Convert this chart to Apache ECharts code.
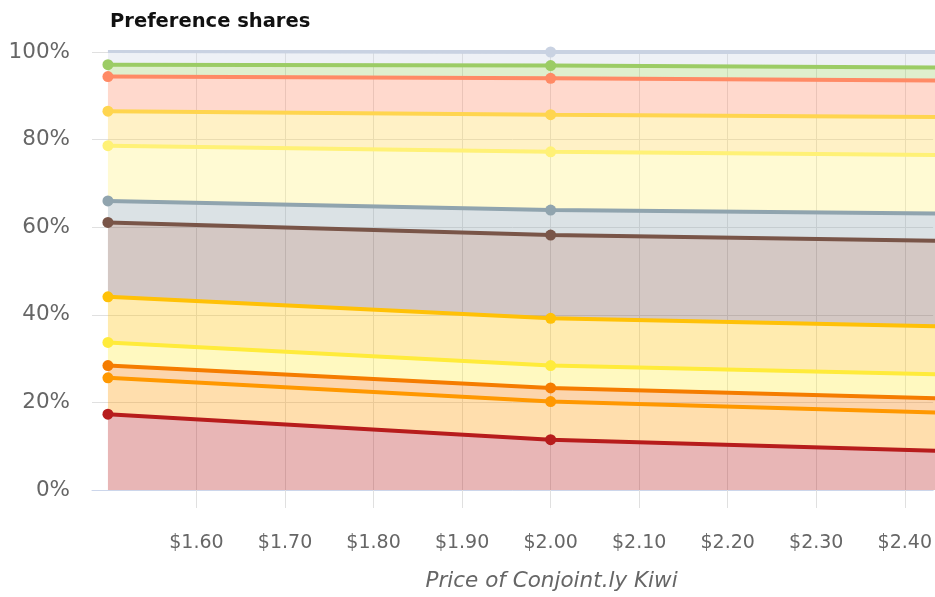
<!DOCTYPE html>
<html>
<head>
<meta charset="utf-8">
<script src="https://cdn.jsdelivr.net/npm/echarts@6/dist/echarts.min.js"></script>
<style>
  html, body { margin: 0; padding: 0; background: #fff; }
  #chart { width: 935px; height: 597px; }
</style>
</head>
<body>
<div id="chart"></div>
<script>
// Price points tested (x values)
const prices = [1.5, 2.0, 2.5];

// Price tick labels shown on the x axis
const priceTicks = [1.6, 1.7, 1.8, 1.9, 2.0, 2.1, 2.2, 2.3, 2.4];

// Product names, bottom of the stack first
const products = [
  'Conjoint.ly Kiwi', 'Product B', 'Product C', 'Product D', 'Product E', 'Product F',
  'Product G', 'Product H', 'Product I', 'Product J', 'Product K', 'None'
];

// Preference share (%) of each product at each price
const share01 = [17.3, 11.5, 8.6];
const share02 = [8.3, 8.7, 8.7];
const share03 = [2.8, 3.1, 3.3];
const share04 = [5.3, 5.1, 5.5];
const share05 = [10.4, 10.8, 11.0];
const share06 = [17.0, 19.0, 19.6];
const share07 = [4.9, 5.7, 6.3];
const share08 = [12.6, 13.3, 13.4];
const share09 = [7.9, 8.5, 8.7];
const share10 = [7.9, 8.3, 8.3];
const share11 = [2.7, 2.9, 3.0];
const share12 = [3.1, 3.1, 3.6];

const shares = [share01, share02, share03, share04, share05, share06,
                share07, share08, share09, share10, share11, share12];

// Line colours, bottom of the stack first
const colors = [
  '#b71c1c', '#ff9800', '#f57c00', '#ffeb3b', '#ffc107', '#795548',
  '#90a4ae', '#fff176', '#ffd54f', '#ff8a65', '#9ccc65', '#c9d2e2'
];

const FONT = 'DejaVu Sans, Arial, sans-serif';

// Rows are [share, price] so the share column is the one that gets stacked
const series = products.map((name, i) => ({
  name: name,
  type: 'line',
  stack: 'shares',
  data: prices.map((p, j) => [shares[i][j], p]),
  encode: { x: 1, y: 0 },
  symbol: 'circle',
  symbolSize: 11,
  lineStyle: { width: 4, color: colors[i] },
  itemStyle: { color: colors[i] },
  areaStyle: { color: colors[i], opacity: 0.32 },
  emphasis: { disabled: true }
}));

const chart = echarts.init(document.getElementById('chart'), null, { renderer: 'canvas' });
chart.setOption({
  animation: false,
  title: {
    text: 'Preference shares',
    left: 105,
    top: 7,
    textStyle: { fontFamily: FONT, fontSize: 19.5, fontWeight: 'bold', color: '#111' }
  },
  grid: { left: 92, right: 0, top: 52, bottom: 103, containLabel: false },
  xAxis: {
    type: 'value',
    min: 1.482,
    max: 2.432,
    name: 'Price of Conjoint.ly Kiwi',
    nameLocation: 'middle',
    nameGap: 80,
    nameTextStyle: { fontFamily: FONT, fontSize: 21.5, fontStyle: 'italic', color: '#666', padding: [0, 0, 0, 78] },
    axisLine: { show: true, lineStyle: { color: '#ccd6eb', width: 1 } },
    axisTick: { show: true, length: 18, customValues: priceTicks, lineStyle: { color: '#e0e0e0' } },
    axisLabel: {
      customValues: priceTicks,
      margin: 44,
      fontFamily: FONT,
      fontSize: 19,
      color: '#666',
      formatter: v => '$' + v.toFixed(2)
    },
    splitLine: { show: true, lineStyle: { color: '#e0e0e0', width: 1 } }
  },
  yAxis: {
    type: 'value',
    min: 0,
    max: 100,
    interval: 20,
    axisLine: { show: false },
    axisTick: { show: false },
    axisLabel: {
      margin: 22,
      fontFamily: FONT,
      fontSize: 21.5,
      color: '#666',
      formatter: '{value}%'
    },
    splitLine: { show: true, lineStyle: { color: '#e0e0e0', width: 1 } }
  },
  series: series
});
</script>
</body>
</html>
